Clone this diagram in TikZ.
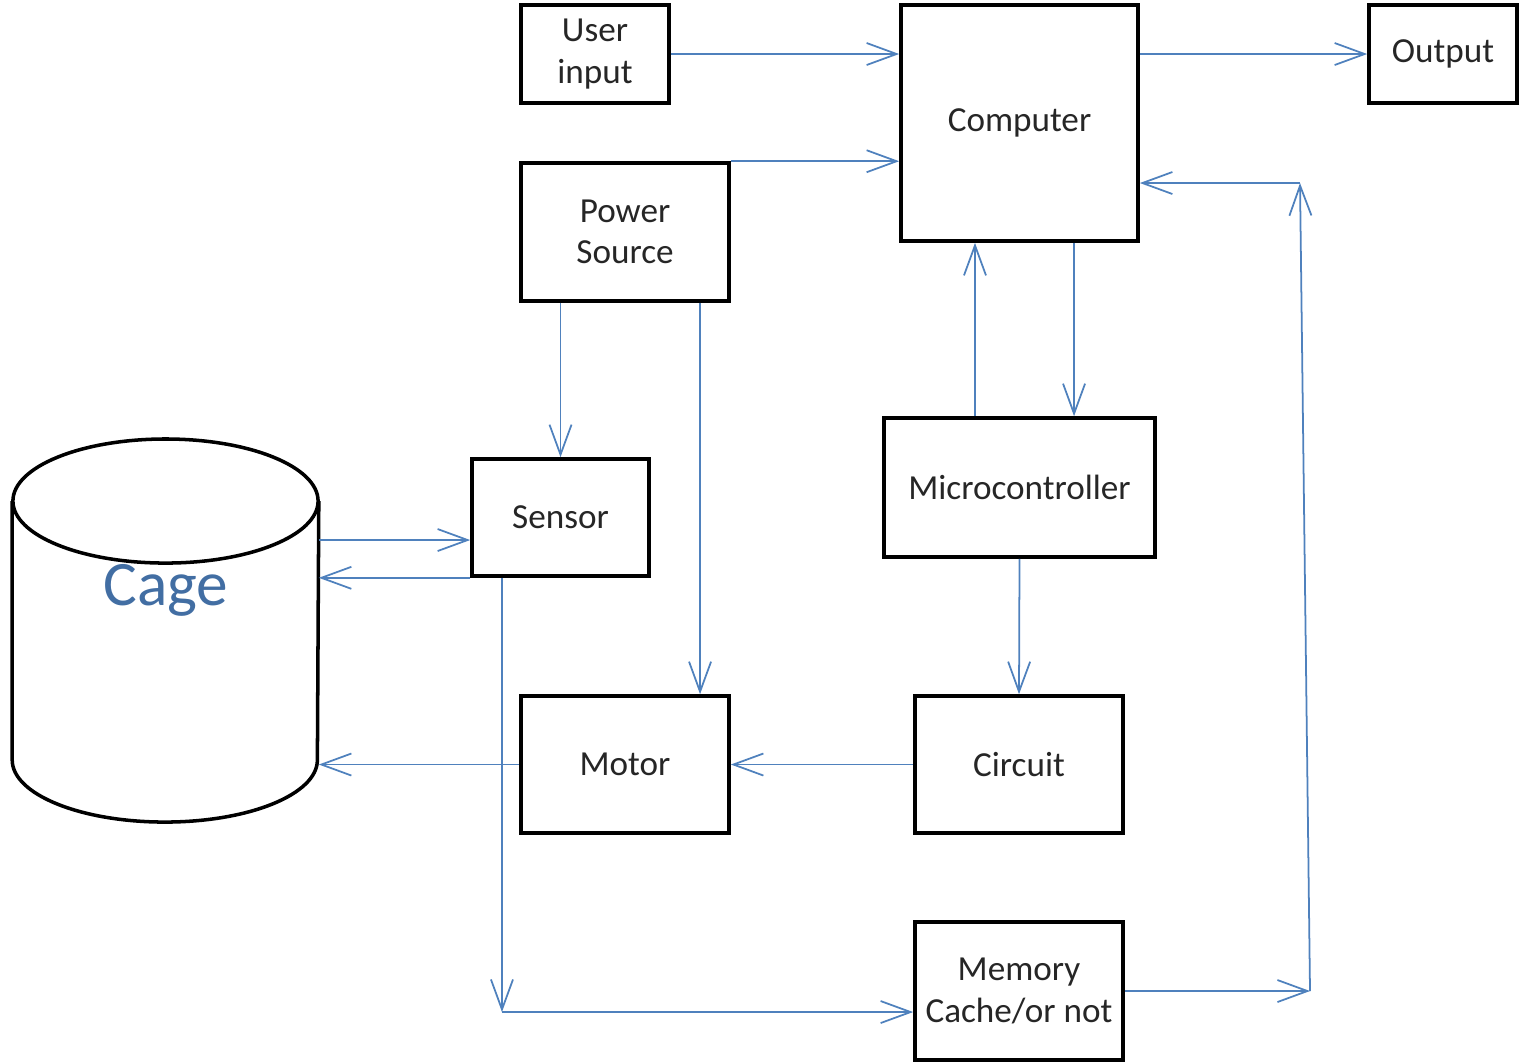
\documentclass[tikz,border=0pt]{standalone}
\usepackage{fontspec}
\setmainfont{Carlito}
\usetikzlibrary{arrows.meta}
\definecolor{linkblue}{RGB}{79,129,189}
\definecolor{cageblue}{RGB}{66,110,163}
\begin{document}
\begin{tikzpicture}[
	x=0.01cm, y=-0.01cm,
	>={Straight Barb[length=3mm,width=2.2mm]},
	block/.style={draw, line width=1pt, align=center, inner sep=0pt,
		font=\fontsize{10}{11.8}\selectfont, text=black!85},
	flow/.style={->, linkblue, line width=0.5pt},
	]
	\useasboundingbox (0,0) rectangle (1519,1062);

	%blocks
	\node[block, minimum width=1.48cm, minimum height=0.98cm] (user) at (595,54) {User\\input};
	\node[block, minimum width=2.37cm, minimum height=2.36cm] (comp) at (1019.5,123) {Computer};
	\node[block, minimum width=1.48cm, minimum height=0.98cm] (out) at (1443,54) {Output};
	\node[block, minimum width=2.08cm, minimum height=1.38cm] (power) at (625,232) {Power\\Source};
	\node[block, minimum width=1.77cm, minimum height=1.17cm] (sensor) at (560.5,517.5) {Sensor};
	\node[block, minimum width=2.71cm, minimum height=1.39cm] (micro) at (1019.5,487.5) {Microcontroller};
	\node[block, minimum width=2.08cm, minimum height=1.37cm] (motor) at (625,764.5) {Motor};
	\node[block, minimum width=2.08cm, minimum height=1.37cm] (circ) at (1019,764.5) {Circuit};
	\node[block, minimum width=2.08cm, minimum height=1.38cm] (mem) at (1019,991) {Memory\\Cache/or not};

	%cage
	\node[minimum width=3.05cm, minimum height=3.81cm, inner sep=0pt] (cage) at (165.5,630.5) {};
	\draw[line width=1pt] (165.5,501) ellipse [x radius=1.525cm, y radius=0.62cm];
	\draw[line width=1pt] (cage.west |- 0,501) -- (cage.west |- 0,760)
		arc[start angle=180, end angle=360, x radius=1.525cm, y radius=0.62cm]
		-- (cage.east |- 0,501);
	\node[text=cageblue, font=\fontsize{18}{20}\selectfont] (cagelabel) at (166,590) {Cage};

	%helper points
	\coordinate (up) at ([xshift=-0.445cm]micro.north);
	\coordinate (dn) at ([xshift=0.545cm]micro.north);
	\coordinate (feed) at ([xshift=0.75cm]motor.north);
	\coordinate (sin) at ([yshift=-0.225cm]sensor.west);
	\coordinate (drop) at ([xshift=-0.585cm]sensor.south);
	\coordinate (memin) at ([yshift=-0.21cm]mem.west);
	\coordinate (corner) at (drop |- memin);
	\coordinate (back1) at (1310,991);
	\coordinate (back2) at (1300,183);

	%arrows
	\draw[flow] (user.east) -- (user.east -| comp.west);
	\draw[flow] (power.north east) -- (power.north east -| comp.west);
	\draw[flow] (comp.east |- out.west) -- (out.west);
	\draw[flow] (up) -- (up |- comp.south);
	\draw[flow] (dn |- comp.south) -- (dn);
	\draw[flow] (power.south -| sensor.north) -- (sensor.north);
	\draw[flow] (feed |- power.south) -- (feed);
	\draw[flow] (sin -| cage.east) -- (sin);
	\draw[flow] (sensor.south west) -- (sensor.south west -| cage.east);
	\draw[flow] (drop) -- (corner);
	\draw[flow] (corner) -- (memin);
	\draw[flow] (micro.south) -- (circ.north);
	\draw[flow] (circ.west) -- (motor.east);
	\draw[flow] (motor.west) -- (motor.west -| cage.east);
	\draw[flow] (mem.east) -- (back1);
	\draw[flow] (back1) -- (back2);
	\draw[flow] (back2) -- (back2 -| comp.east);
\end{tikzpicture}
\end{document}
